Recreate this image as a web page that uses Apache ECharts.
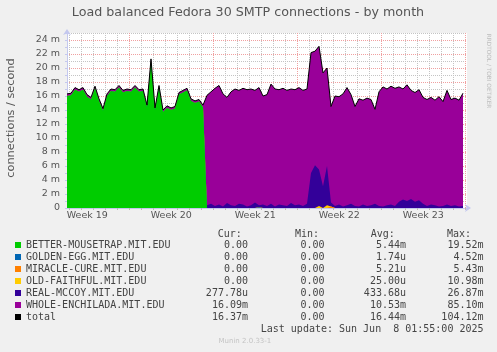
<!DOCTYPE html>
<html>
<head>
<meta charset="utf-8">
<script src="https://cdn.jsdelivr.net/npm/echarts@6/dist/echarts.min.js"></script>
<style>
html, body { margin: 0; padding: 0; background: #f0f0f0; }
#chart { width: 497px; height: 352px; }
</style>
</head>
<body>
<div id="chart"></div>
<script>
// samples every 8 hours, x in days relative to Monday of week 20
const dayStart = -5.2;
const dayStep = 1 / 3;

const names = ['BETTER-MOUSETRAP.MIT.EDU', 'GOLDEN-EGG.MIT.EDU', 'MIRACLE-CURE.MIT.EDU',
    'OLD-FAITHFUL.MIT.EDU', 'REAL-MCCOY.MIT.EDU', 'WHOLE-ENCHILADA.MIT.EDU'];
const colors = ['#00cc00', '#0066b3', '#ff8000', '#ffcc00', '#330099', '#990099'];
const weekLabels = ['Week 19', 'Week 20', 'Week 21', 'Week 22', 'Week 23'];

// values in milli connections / second
const mousetrap = [
    16.0, 16.1, 16.9, 16.6, 16.9, 15.9, 15.5, 17.1, 15.3, 13.9, 16.0, 16.7, 16.6, 17.2, 16.5, 16.7, 16.6, 17.2, 16.6, 16.7,
    14.4, 21.0, 14.0, 17.2, 13.7, 14.3, 14.0, 14.2, 16.2, 16.5, 16.8, 15.3, 15.0, 15.2, 14.4, 0, 0, 0, 0, 0,
    0, 0, 0, 0, 0, 0, 0, 0, 0, 0, 0, 0, 0, 0, 0, 0, 0, 0, 0, 0,
    0, 0, 0, 0, 0, 0, 0, 0, 0, 0, 0, 0, 0, 0, 0, 0, 0, 0, 0, 0,
    0, 0, 0, 0, 0, 0, 0, 0, 0, 0, 0, 0, 0, 0, 0, 0, 0, 0, 0, 0];
const goldenEgg = [
    0, 0, 0, 0, 0, 0, 0, 0, 0, 0, 0, 0, 0, 0, 0, 0, 0, 0, 0, 0,
    0, 0, 0, 0, 0, 0, 0, 0, 0, 0, 0, 0, 0, 0, 0, 0, 0, 0, 0, 0,
    0, 0, 0, 0, 0, 0, 0, 0, 0.1, 0, 0, 0, 0, 0, 0, 0, 0, 0, 0, 0,
    0, 0, 0, 0, 0, 0, 0, 0, 0, 0, 0, 0, 0, 0, 0, 0, 0, 0, 0, 0,
    0, 0, 0, 0, 0, 0, 0, 0, 0, 0, 0, 0, 0, 0, 0, 0, 0, 0, 0, 0];
const miracleCure = [
    0, 0, 0, 0, 0, 0, 0, 0, 0, 0, 0, 0, 0, 0, 0, 0, 0, 0, 0, 0,
    0, 0, 0, 0, 0, 0, 0, 0, 0, 0, 0, 0, 0, 0, 0, 0, 0, 0, 0, 0,
    0, 0, 0, 0, 0, 0, 0, 0, 0, 0, 0, 0, 0, 0, 0, 0, 0, 0, 0, 0,
    0, 0, 0, 0, 0, 0, 0.2, 0, 0, 0, 0, 0, 0, 0, 0, 0, 0, 0, 0, 0,
    0, 0, 0, 0, 0, 0, 0, 0, 0, 0, 0, 0, 0, 0, 0, 0, 0, 0, 0, 0];
const oldFaithful = [
    0, 0, 0, 0, 0, 0, 0, 0, 0, 0, 0, 0, 0, 0, 0, 0, 0, 0, 0, 0,
    0, 0, 0, 0, 0, 0, 0, 0, 0, 0, 0, 0, 0, 0, 0, 0, 0, 0, 0, 0,
    0, 0, 0, 0, 0, 0, 0, 0, 0, 0, 0, 0, 0, 0, 0, 0, 0, 0, 0, 0,
    0, 0, 0, 0.3, 0, 0.4, 0, 0, 0, 0, 0, 0, 0, 0, 0, 0, 0, 0, 0, 0,
    0, 0, 0, 0, 0, 0, 0, 0, 0, 0, 0, 0, 0, 0, 0, 0, 0, 0, 0, 0];
const realMccoy = [
    0, 0, 0, 0, 0, 0, 0, 0, 0, 0, 0, 0, 0, 0, 0, 0, 0, 0, 0, 0,
    0, 0, 0, 0, 0, 0, 0, 0, 0, 0, 0, 0, 0, 0, 0, 0.4, 0.6, 0.3, 0.5, 0.2,
    0.7, 0.4, 0.3, 0.6, 0.5, 0.2, 0.4, 0.8, 0.3, 0.5, 0.3, 0.6, 0.2, 0.5, 0.4, 0.3, 0.7, 0.4, 0.5, 0.3,
    0.6, 5.0, 6.1, 5.2, 3.1, 5.6, 0.6, 0.3, 0.5, 0.2, 0.4, 0.6, 0.3, 0.2, 0.5, 0.3, 0.4, 0.6, 0.3, 0.2,
    0.4, 0.5, 0.3, 0.9, 1.2, 1.0, 1.3, 0.9, 1.1, 0.6, 0.3, 0.5, 0.4, 0.2, 0.3, 0.5, 0.3, 0.4, 0.2, 0.3];
const wholeEnchilada = [
    0.3, 0.3, 0.3, 0.3, 0.3, 0.3, 0.3, 0.3, 0.3, 0.3, 0.3, 0.3, 0.3, 0.3, 0.3, 0.3, 0.3, 0.3, 0.3, 0.3,
    0.3, 0.3, 0.3, 0.3, 0.3, 0.3, 0.3, 0.3, 0.3, 0.3, 0.3, 0.3, 0.3, 0.3, 0.3, 15.7, 16.0, 16.8, 17.0, 16.1,
    15.1, 16.2, 16.7, 16.2, 16.6, 16.7, 16.6, 16.0, 16.8, 15.5, 15.9, 17.1, 16.8, 16.4, 16.7, 16.5, 16.3, 16.5, 16.7, 16.5,
    16.4, 17.2, 16.3, 17.6, 16.2, 14.0, 13.7, 15.7, 15.4, 16.1, 16.8, 15.6, 14.2, 15.4, 14.9, 15.4, 15.1, 13.5, 16.3, 17.1,
    16.6, 16.9, 16.8, 16.4, 15.8, 16.6, 15.5, 15.6, 15.8, 15.2, 15.2, 15.3, 15.0, 15.7, 14.9, 16.3, 15.2, 15.3, 15.2, 16.1];

// legend table
const statCur = ['0.00', '0.00', '0.00', '0.00', '277.78u', '16.09m', '16.37m'];
const statMin = ['0.00', '0.00', '0.00', '0.00', '0.00', '0.00', '0.00'];
const statAvg = ['5.44m', '1.74u', '5.21u', '25.00u', '433.68u', '10.53m', '16.44m'];
const statMax = ['19.52m', '4.52m', '5.43m', '10.98m', '26.87m', '85.10m', '104.12m'];

const stacks = [mousetrap, goldenEgg, miracleCure, oldFaithful, realMccoy, wholeEnchilada];
const xOf = i => dayStart + i * dayStep;

// running sums, each area is filled down to zero and the lower ones are drawn on top
const cumulative = [];
stacks.forEach((arr, k) => {
    cumulative.push(arr.map((v, i) => +((k ? cumulative[k - 1][i] : 0) + v).toFixed(2)));
});
const total = cumulative[cumulative.length - 1];

const axisBlue = '#c4c8ee';
const labelColor = '#555';
const gridGray = '#c4c4c4';
const gridRed = '#f0a0a0';
const mono = 'DejaVu Sans Mono';
const sans = 'DejaVu Sans';

const series = stacks.map((arr, k) => ({
    name: names[k],
    type: 'line',
    xAxisIndex: 0,
    yAxisIndex: 0,
    z: 20 - k,
    symbol: 'none',
    color: colors[k],
    lineStyle: { width: 0 },
    areaStyle: { color: colors[k], opacity: 1 },
    data: cumulative[k].map((v, i) => [xOf(i), v])
}));
series.push({
    name: 'total',
    type: 'line',
    xAxisIndex: 0,
    yAxisIndex: 0,
    z: 30,
    symbol: 'none',
    color: '#000',
    lineStyle: { width: 1, color: '#000' },
    data: total.map((v, i) => [xOf(i), v])
});

const graphic = [
    { type: 'rect', z: -10, shape: { x: 67, y: 33, width: 400, height: 175 }, style: { fill: '#fff' } },
    { type: 'text', x: 248, y: 13, style: { text: 'Load balanced Fedora 30 SMTP connections - by month', fill: labelColor,
        font: '12.7px "DejaVu Sans"', align: 'center', verticalAlign: 'middle', textAlign: 'center', textVerticalAlign: 'middle' } },
    { type: 'text', x: 11, y: 118, rotation: Math.PI / 2, style: { text: 'connections / second', fill: labelColor,
        font: '11.3px "DejaVu Sans"', align: 'center', verticalAlign: 'middle', textAlign: 'center', textVerticalAlign: 'middle' } },
    { type: 'text', x: 489, y: 71, rotation: -Math.PI / 2, style: { text: 'RRDTOOL / TOBI OETIKER', fill: '#bdbdbd',
        font: '5.8px "DejaVu Sans"', align: 'center', verticalAlign: 'middle', textAlign: 'center', textVerticalAlign: 'middle' } },
    { type: 'text', x: 218.5, y: 341, style: { text: 'Munin 2.0.33-1', fill: '#c4c4c4',
        font: '7px "DejaVu Sans"', align: 'left', verticalAlign: 'middle', textAlign: 'left', textVerticalAlign: 'middle' } }
];
const monoText = (text, x, y, align) => ({ type: 'text', x: x, y: y, style: { text: text, fill: '#444',
    font: '10px "' + mono + '"', align: align, verticalAlign: 'middle', textAlign: align, textVerticalAlign: 'middle' } });
graphic.push(monoText('Cur:', 217.7, 234, 'left'));
graphic.push(monoText('Min:', 295, 234, 'left'));
graphic.push(monoText('Avg:', 370.7, 234, 'left'));
graphic.push(monoText('Max:', 447, 234, 'left'));
for (let k = 0; k < statCur.length; k++) {
    const y = 245 + 12 * k;
    graphic.push(monoText(statCur[k], 248, y, 'right'));
    graphic.push(monoText(statMin[k], 324.5, y, 'right'));
    graphic.push(monoText(statAvg[k], 406, y, 'right'));
    graphic.push(monoText(statMax[k], 483.5, y, 'right'));
}
graphic.push(monoText('Last update: Sun Jun  8 01:55:00 2025', 483.5, 329.3, 'right'));

const option = {
    animation: false,
    backgroundColor: '#f0f0f0',
    grid: [
        { left: 67, top: 33, width: 400, height: 175 },
        { left: 69.3, top: 33, width: 396, height: 175 },
        { left: 87.3, top: 33, width: 336, height: 175 }
    ],
    legend: {
        orient: 'vertical', left: 15, top: 239, padding: 0, itemGap: 0,
        icon: 'rect', itemWidth: 6, itemHeight: 6, selectedMode: false,
        textStyle: { fontFamily: mono, fontSize: 10, color: '#444', lineHeight: 12 },
        data: names.concat(['total'])
    },
    xAxis: [
        { gridIndex: 0, type: 'value', min: dayStart, max: dayStart + 400 / 12,
            axisLine: { show: true, onZero: false, symbol: ['none', 'arrow'], symbolSize: [6, 6], symbolOffset: [0, 4], lineStyle: { color: axisBlue } },
            axisTick: { show: false }, axisLabel: { show: false }, splitLine: { show: false } },
        { gridIndex: 1, type: 'value', min: -5, max: 28, interval: 1,
            axisLine: { show: false, onZero: false }, axisLabel: { show: false },
            axisTick: { show: true, length: 2, lineStyle: { color: '#bbb' } },
            splitLine: { show: true, lineStyle: { type: [1, 1],
                color: [gridGray, gridGray, gridGray, gridGray, gridGray, gridRed, gridGray] } } },
        { gridIndex: 2, type: 'value', min: 0, max: 4, interval: 1,
            axisLine: { show: false, onZero: false }, axisTick: { show: false }, splitLine: { show: false },
            axisLabel: { margin: 3, color: labelColor, fontFamily: sans, fontSize: 9.5,
                formatter: v => weekLabels[v] } }
    ],
    yAxis: [
        { gridIndex: 0, type: 'value', min: 0, max: 25, interval: 1,
            axisLine: { show: true, onZero: false, symbol: ['none', 'arrow'], symbolSize: [6, 6], symbolOffset: [0, 4], lineStyle: { color: axisBlue } },
            axisTick: { show: true, length: 2, lineStyle: { color: axisBlue } },
            axisLabel: { margin: 7, color: labelColor, fontFamily: sans, fontSize: 9.5,
                formatter: v => (v % 2 ? '' : (v === 0 ? '0' : v + ' m')) },
            splitLine: { show: true, lineStyle: { type: [1, 1], color: [gridRed, gridGray] } } },
        { gridIndex: 1, type: 'value', min: 0, max: 1, show: false },
        { gridIndex: 2, type: 'value', min: 0, max: 1, show: false }
    ],
    graphic: graphic,
    series: series
};

const myChart = echarts.init(document.getElementById('chart'), null, { renderer: 'canvas' });
myChart.setOption(option);
</script>
</body>
</html>
